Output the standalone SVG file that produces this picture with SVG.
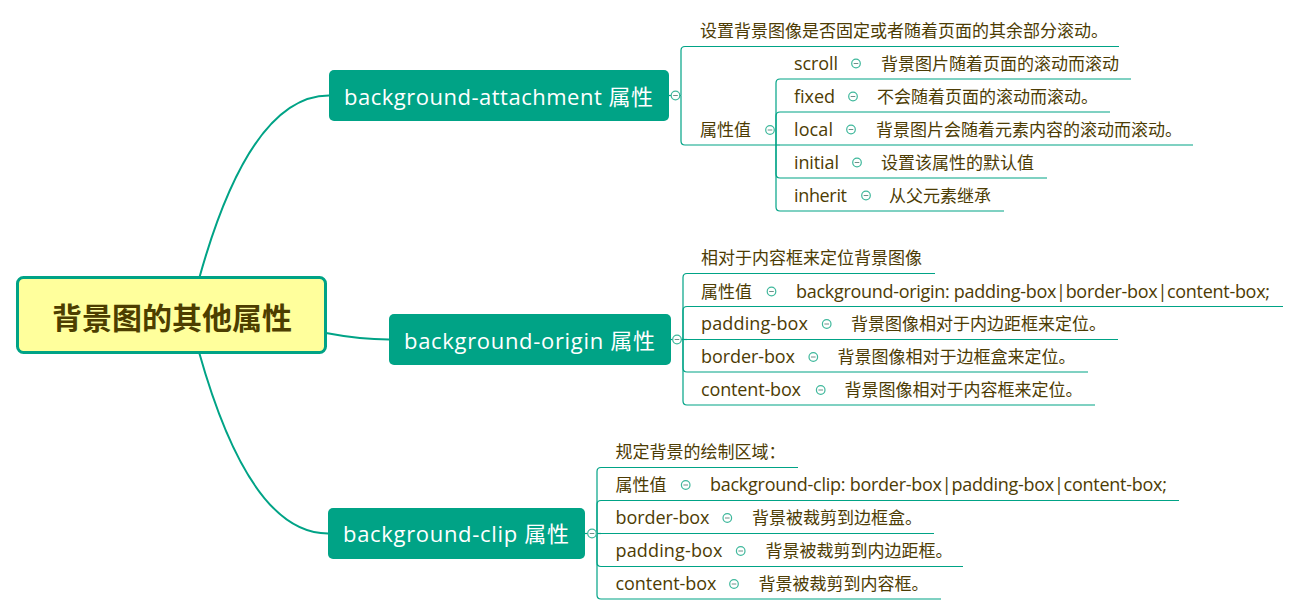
<svg xmlns="http://www.w3.org/2000/svg" xmlns:xlink="http://www.w3.org/1999/xlink" width="1299" height="615" viewBox="0 0 1299 615">
<style>
.bg{fill:#ffffff}
.con{fill:none;stroke:#00a386;stroke-width:1.2}
.main{fill:none;stroke:#00a386;stroke-width:2}
.ul{stroke:#00a386;stroke-width:1.2}
.br{fill:#00a386}
.bt{fill:#ffffff;font-family:"Open Sans","Noto Sans CJK SC",sans-serif;font-size:22px}
.t{fill:#4d3c04;font-family:"Open Sans","Noto Sans CJK SC",sans-serif;font-size:18px}
.c{fill:#4d3c04;font-family:"Noto Sans CJK SC",sans-serif;font-size:17px}
.root{fill:#ffff9c;stroke:#00a386;stroke-width:3}
.rt{fill:#4d3e00;font-family:"Noto Sans CJK SC",sans-serif;font-size:30px;font-weight:bold}
</style>
<defs>
<g id="tog"><circle r="4.3" fill="#ffffff" stroke="#3fb89c" stroke-width="1.2"/><line x1="-2.3" y1="0" x2="2.3" y2="0" stroke="#6f8f88" stroke-width="1"/></g>
</defs>
<rect class="bg" x="0" y="0" width="1299" height="615"/>

<g id="connectors">
<path class="main" d="M199 279 Q250 95.5 329 95.5"/>
<path class="main" d="M326 333 Q360 339.5 389 339.5"/>
<path class="main" d="M199 352 Q250 533.5 328 533.5"/>
<!-- branch 1 -->
<path class="con" d="M669 95.5 H681"/>
<path class="con" d="M681 95.5 V50.5 Q681 46.5 685 46.5"/>
<path class="con" d="M681 95.5 V141 Q681 145 685 145"/>
<path class="con" d="M776 145 V83 Q776 79 780 79"/>
<path class="con" d="M776 145 V116 Q776 112 780 112"/>
<path class="con" d="M776 145 H780"/>
<path class="con" d="M776 145 V174 Q776 178 780 178"/>
<path class="con" d="M776 145 V207 Q776 211 780 211"/>
<!-- branch 2 -->
<path class="con" d="M671 339.5 H683"/>
<path class="con" d="M683 339.5 V277.5 Q683 273.5 687 273.5"/>
<path class="con" d="M683 339.5 V310.5 Q683 306.5 687 306.5"/>
<path class="con" d="M683 339.5 H687"/>
<path class="con" d="M683 339.5 V368 Q683 372 687 372"/>
<path class="con" d="M683 339.5 V401 Q683 405 687 405"/>
<!-- branch 3 -->
<path class="con" d="M585 533.5 H597"/>
<path class="con" d="M597 533.5 V471.5 Q597 467.5 601 467.5"/>
<path class="con" d="M597 533.5 V504.5 Q597 500.5 601 500.5"/>
<path class="con" d="M597 533.5 H601"/>
<path class="con" d="M597 533.5 V562.5 Q597 566.5 601 566.5"/>
<path class="con" d="M597 533.5 V595 Q597 599 601 599"/>
</g>

<g id="root">
<rect class="root" x="17.5" y="277.5" width="308" height="75" rx="6"/>
<text class="rt" x="172" y="329" text-anchor="middle">背景图的其他属性</text>
</g>

<!-- Branch 1 -->
<g id="b1">
<rect class="br" x="329" y="70" width="340" height="51" rx="5"/>
<text class="bt" x="344" y="104.5" textLength="309">background-attachment 属性</text>
<use xlink:href="#tog" x="675.5" y="95.5"/>
</g>
<g id="b1-desc">
<text class="c" x="700" y="37">设置背景图像是否固定或者随着页面的其余部分滚动。</text>
<line class="ul" x1="685" y1="46.5" x2="1119" y2="46.5"/>
</g>
<g id="b1-values">
<text class="c" x="700" y="136">属性值</text>
<use xlink:href="#tog" x="770" y="130"/>
<line class="ul" x1="685" y1="145" x2="776" y2="145"/>
</g>
<g id="b1-scroll">
<text class="t" x="794" y="69.5" textLength="44">scroll</text>
<use xlink:href="#tog" x="856" y="63.5"/>
<text class="c" x="881" y="69.5">背景图片随着页面的滚动而滚动</text>
<line class="ul" x1="780" y1="79" x2="1131" y2="79"/>
</g>
<g id="b1-fixed">
<text class="t" x="794" y="102.5" textLength="41">fixed</text>
<use xlink:href="#tog" x="853" y="96.5"/>
<text class="c" x="877" y="102.5">不会随着页面的滚动而滚动。</text>
<line class="ul" x1="780" y1="112" x2="1110" y2="112"/>
</g>
<g id="b1-local">
<text class="t" x="794" y="135.5" textLength="39">local</text>
<use xlink:href="#tog" x="851" y="129.5"/>
<text class="c" x="876" y="135.5">背景图片会随着元素内容的滚动而滚动。</text>
<line class="ul" x1="780" y1="145" x2="1193" y2="145"/>
</g>
<g id="b1-initial">
<text class="t" x="794" y="168.5" textLength="45">initial</text>
<use xlink:href="#tog" x="857" y="162.5"/>
<text class="c" x="881" y="168.5">设置该属性的默认值</text>
<line class="ul" x1="780" y1="178" x2="1047" y2="178"/>
</g>
<g id="b1-inherit">
<text class="t" x="794" y="201.5" textLength="53">inherit</text>
<use xlink:href="#tog" x="866" y="195.5"/>
<text class="c" x="889" y="201.5">从父元素继承</text>
<line class="ul" x1="780" y1="211" x2="1004" y2="211"/>
</g>

<!-- Branch 2 -->
<g id="b2">
<rect class="br" x="389" y="314" width="282" height="51" rx="5"/>
<text class="bt" x="404" y="348.5" textLength="251">background-origin 属性</text>
<use xlink:href="#tog" x="677" y="339.5"/>
</g>
<g id="b2-desc">
<text class="c" x="701" y="264">相对于内容框来定位背景图像</text>
<line class="ul" x1="687" y1="273.5" x2="935" y2="273.5"/>
</g>
<g id="b2-values">
<text class="c" x="701" y="297.5">属性值</text>
<use xlink:href="#tog" x="771.5" y="291.5"/>
<text class="t" x="796" y="297.5" textLength="474">background-origin: padding-box|border-box|content-box;</text>
<line class="ul" x1="687" y1="306.5" x2="1283" y2="306.5"/>
</g>
<g id="b2-padding">
<text class="t" x="701" y="330" textLength="107">padding-box</text>
<use xlink:href="#tog" x="826.7" y="324"/>
<text class="c" x="851" y="330">背景图像相对于内边距框来定位。</text>
<line class="ul" x1="687" y1="339.5" x2="1118" y2="339.5"/>
</g>
<g id="b2-border">
<text class="t" x="701" y="363" textLength="94">border-box</text>
<use xlink:href="#tog" x="813.3" y="357"/>
<text class="c" x="837.5" y="363">背景图像相对于边框盒来定位。</text>
<line class="ul" x1="687" y1="372" x2="1088" y2="372"/>
</g>
<g id="b2-content">
<text class="t" x="701" y="396" textLength="100">content-box</text>
<use xlink:href="#tog" x="820.7" y="390"/>
<text class="c" x="844.5" y="396">背景图像相对于内容框来定位。</text>
<line class="ul" x1="687" y1="405" x2="1095" y2="405"/>
</g>

<!-- Branch 3 -->
<g id="b3">
<rect class="br" x="328" y="508" width="257" height="51" rx="5"/>
<text class="bt" x="343" y="542" textLength="226">background-clip 属性</text>
<use xlink:href="#tog" x="592" y="533.5"/>
</g>
<g id="b3-desc">
<text class="c" x="615.5" y="458">规定背景的绘制区域：</text>
<line class="ul" x1="601" y1="467.5" x2="798" y2="467.5"/>
</g>
<g id="b3-values">
<text class="c" x="615.5" y="491">属性值</text>
<use xlink:href="#tog" x="685.7" y="485"/>
<text class="t" x="710" y="491" textLength="457">background-clip: border-box|padding-box|content-box;</text>
<line class="ul" x1="601" y1="500.5" x2="1179" y2="500.5"/>
</g>
<g id="b3-border">
<text class="t" x="615.5" y="524" textLength="94">border-box</text>
<use xlink:href="#tog" x="727.3" y="518"/>
<text class="c" x="752" y="524">背景被裁剪到边框盒。</text>
<line class="ul" x1="601" y1="533.5" x2="934" y2="533.5"/>
</g>
<g id="b3-padding">
<text class="t" x="615.5" y="557" textLength="107">padding-box</text>
<use xlink:href="#tog" x="740.7" y="551"/>
<text class="c" x="765.5" y="557">背景被裁剪到内边距框。</text>
<line class="ul" x1="601" y1="566.5" x2="963" y2="566.5"/>
</g>
<g id="b3-content">
<text class="t" x="615.5" y="590" textLength="101">content-box</text>
<use xlink:href="#tog" x="734" y="584"/>
<text class="c" x="758.5" y="590">背景被裁剪到内容框。</text>
<line class="ul" x1="601" y1="599" x2="941" y2="599"/>
</g>
</svg>
